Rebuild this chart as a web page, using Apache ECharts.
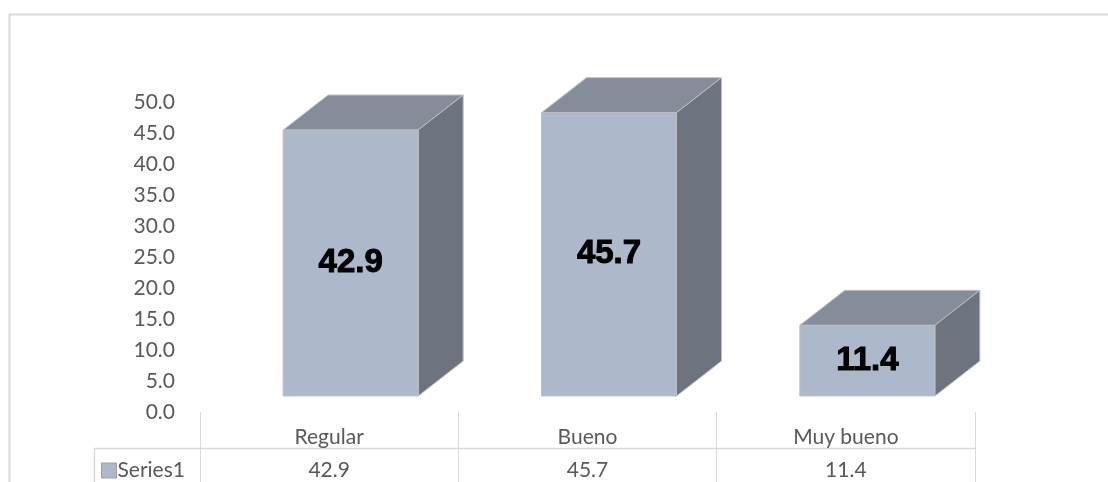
<!DOCTYPE html>
<html>
<head>
<meta charset="utf-8">
<script src="https://cdn.jsdelivr.net/npm/echarts@6/dist/echarts.min.js"></script>
<style>
html,body{margin:0;padding:0;background:#fff;}
#chart{width:1108px;height:482px;}
</style>
</head>
<body>
<div id="chart"></div>
<script>
var categories = ['Regular', 'Bueno', 'Muy bueno'];
var seriesName = 'Series1';
var values = [42.9, 45.7, 11.4];
var yTicks = { min: 0, max: 50, interval: 5 };

var FONT = 'Lato, "Open Sans", sans-serif';
var GRAY = '#595959';
var FRONT = '#ADB9CA', TOP = '#848D99', SIDE = '#6D7480', EDGE = '#BFBFBF';

var chart = echarts.init(document.getElementById('chart'));

function renderItem(params, api) {
  var i = api.value(0), v = api.value(1);
  var pTop = api.coord([i, v]);
  var pBase = api.coord([i, 0]);
  var w = 135, shiftX = 21.5, shiftY = -16, dx = 45, dy = -35;
  var cx = pTop[0] + shiftX;
  var x0 = cx - w / 2, x1 = cx + w / 2;
  var yT = pTop[1] + shiftY, yB = pBase[1] + shiftY;
  var ls = { stroke: EDGE, lineWidth: 1 };
  return {
    type: 'group',
    children: [
      { type: 'polygon', shape: { points: [[x0, yT], [x0 + dx, yT + dy], [x1 + dx, yT + dy], [x1, yT]] },
        style: Object.assign({ fill: TOP }, ls) },
      { type: 'polygon', shape: { points: [[x1, yT], [x1 + dx, yT + dy], [x1 + dx, yB + dy], [x1, yB]] },
        style: Object.assign({ fill: SIDE }, ls) },
      { type: 'rect', shape: { x: x0, y: yT, width: w, height: yB - yT },
        style: Object.assign({ fill: FRONT }, ls) },
      { type: 'text', x: cx, y: (yT + yB) / 2,
        style: { text: v.toFixed(1), fill: '#000', font: 'bold 33px "Liberation Sans", Arial, sans-serif',
                 align: 'center', verticalAlign: 'middle', stroke: '#000', lineWidth: 1 } }
    ]
  };
}

var option = {
  animation: false,
  backgroundColor: '#fff',
  grid: { left: 200, right: 133, top: 102, bottom: 70 },
  legend: {
    left: 101, top: 460, padding: 0,
    itemWidth: 15, itemHeight: 15,
    icon: 'rect',
    data: [{ name: seriesName, itemStyle: { color: FRONT, borderColor: '#A0A0A0', borderWidth: 1 } }],
    textStyle: { color: GRAY, fontSize: 21, fontFamily: FONT, padding: [0, 0, 0, -4] }
  },
  xAxis: [
    {
      type: 'category', data: categories, position: 'bottom',
      axisLine: { show: false },
      axisTick: { show: true, length: 72, lineStyle: { color: '#D9D9D9', width: 1 } },
      axisLabel: { margin: 15, color: GRAY, fontSize: 21, fontFamily: FONT }
    },
    {
      type: 'category', data: categories, position: 'bottom',
      axisLine: { show: false }, axisTick: { show: false },
      axisLabel: { margin: 48, color: GRAY, fontSize: 21, fontFamily: FONT,
        formatter: function (val, idx) { return values[idx].toFixed(1); } }
    }
  ],
  yAxis: {
    type: 'value', min: yTicks.min, max: yTicks.max, interval: yTicks.interval,
    axisLine: { show: false }, axisTick: { show: false }, splitLine: { show: false },
    axisLabel: { margin: 25, color: GRAY, fontSize: 21, fontFamily: FONT,
      formatter: function (v) { return v.toFixed(1); } }
  },
  graphic: [
    { type: 'line', shape: { x1: 9.5, y1: 14, x2: 9.5, y2: 482 }, style: { stroke: '#D9D9D9', lineWidth: 2 } },
    { type: 'line', shape: { x1: 9, y1: 14.5, x2: 1108, y2: 14.5 }, style: { stroke: '#D9D9D9', lineWidth: 2 } },
    { type: 'line', shape: { x1: 94, y1: 448.5, x2: 976, y2: 448.5 }, style: { stroke: '#D9D9D9', lineWidth: 1.5 } },
    { type: 'line', shape: { x1: 94.5, y1: 448, x2: 94.5, y2: 482 }, style: { stroke: '#D9D9D9', lineWidth: 1.5 } }
  ],
  series: [{
    name: seriesName,
    type: 'custom',
    renderItem: renderItem,
    itemStyle: { color: FRONT },
    data: values.map(function (v, i) { return [i, v]; })
  }]
};
chart.setOption(option);
</script>
</body>
</html>
